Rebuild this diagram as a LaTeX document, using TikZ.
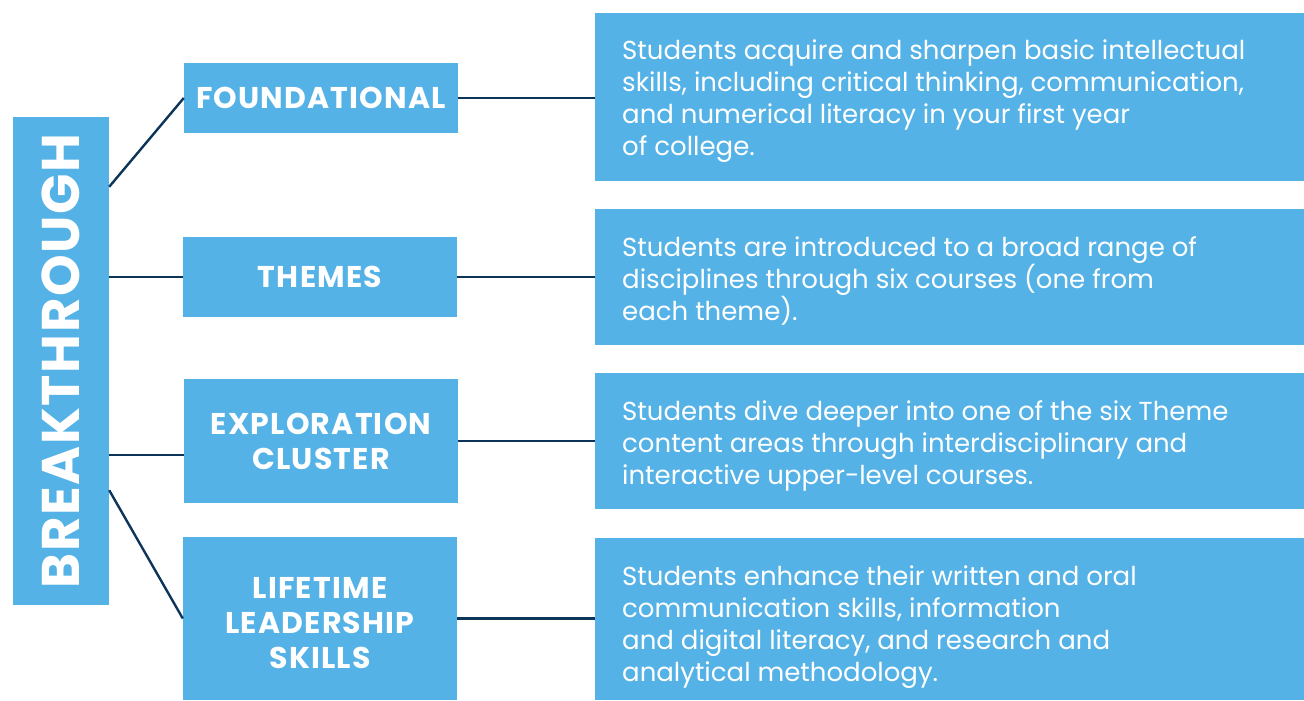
\documentclass[tikz,border=0pt]{standalone}
\usepackage{fontspec}
\setmainfont{Poppins}
\newfontfamily\lblfont[LetterSpace=4]{Poppins}
\newfontfamily\bigfont[LetterSpace=3]{Poppins}
\definecolor{boxblue}{HTML}{55B2E6}
\definecolor{navy}{HTML}{0D3559}
\begin{document}
\begin{tikzpicture}[x=1pt,y=-1pt,
  box/.style={fill=boxblue,draw=none,inner sep=0pt,text=white},
  lbltext/.style={text=white,inner sep=0pt,font=\lblfont\fontsize{30}{35}\selectfont\bfseries,align=center},
  lbl/.style={box,lbltext},
  body/.style={text=white,inner sep=0pt,anchor=north west,align=left,font=\fontsize{26}{32}\selectfont},
  conn/.style={draw=navy,line width=2.4pt}]
\useasboundingbox (0,0) rectangle (1304,701);
% main vertical box
\node[box,minimum width=96pt,minimum height=488pt] (bt) at (61,361) {};
\node[text=white,rotate=90,font=\bigfont\fontsize{53}{53}\selectfont\bfseries,inner sep=0pt] (btt) at (61,361) {BREAKTHROUGH};
% middle boxes
\node[lbl,minimum width=274pt,minimum height=70pt] (found) at (321,98) {FOUNDATIONAL};
\node[lbl,minimum width=274pt,minimum height=80pt] (themes) at (320,277) {THEMES};
\node[lbl,minimum width=274pt,minimum height=124pt] (expl) at (321,441) {EXPLORATION\\CLUSTER};
\node[box,minimum width=274pt,minimum height=163pt] (life) at (320,618.5) {};
\node[lbltext] (lifet) at ([yshift=-5pt]life.center) {LIFETIME\\LEADERSHIP\\SKILLS};
% right boxes
\node[box,minimum width=709pt,minimum height=168pt] (r1) at (949.5,97) {};
\node[box,minimum width=709pt,minimum height=136pt] (r2) at (949.5,277) {};
\node[box,minimum width=709pt,minimum height=136pt] (r3) at (949.5,441) {};
\node[box,minimum width=709pt,minimum height=162pt] (r4) at (949.5,619) {};
\node[body] (t1) at (622,39.5) {Students acquire and sharpen basic intellectual\\skills, including critical thinking, communication,\\and numerical literacy in your first year\\of college.};
\node[body] (t2) at (622,236) {Students are introduced to a broad range of\\disciplines through six courses (one from\\each theme).};
\node[body] (t3) at (622,400.5) {Students dive deeper into one of the six Theme\\content areas through interdisciplinary and\\interactive upper-level courses.};
\node[body] (t4) at (622,566) {Students enhance their written and oral\\communication skills, information\\and digital literacy, and research and\\analytical methodology.};
% connectors
\draw[conn] ([yshift=-70pt]bt.north east) -- (found.west);
\draw[conn] (bt.east |- themes.west) -- (themes.west);
\coordinate (ex) at ([yshift=-14pt]expl.west);
\draw[conn] (bt.east |- ex) -- (ex);
\draw[conn] ([yshift=115pt]bt.south east) -- (life.west);
\draw[conn] (found.east) -- (r1.west |- found.east);
\draw[conn] (themes.east) -- (r2.west |- themes.east);
\draw[conn] (expl.east) -- (r3.west |- expl.east);
\draw[conn] (life.east) -- (r4.west |- life.east);
\end{tikzpicture}
\end{document}
